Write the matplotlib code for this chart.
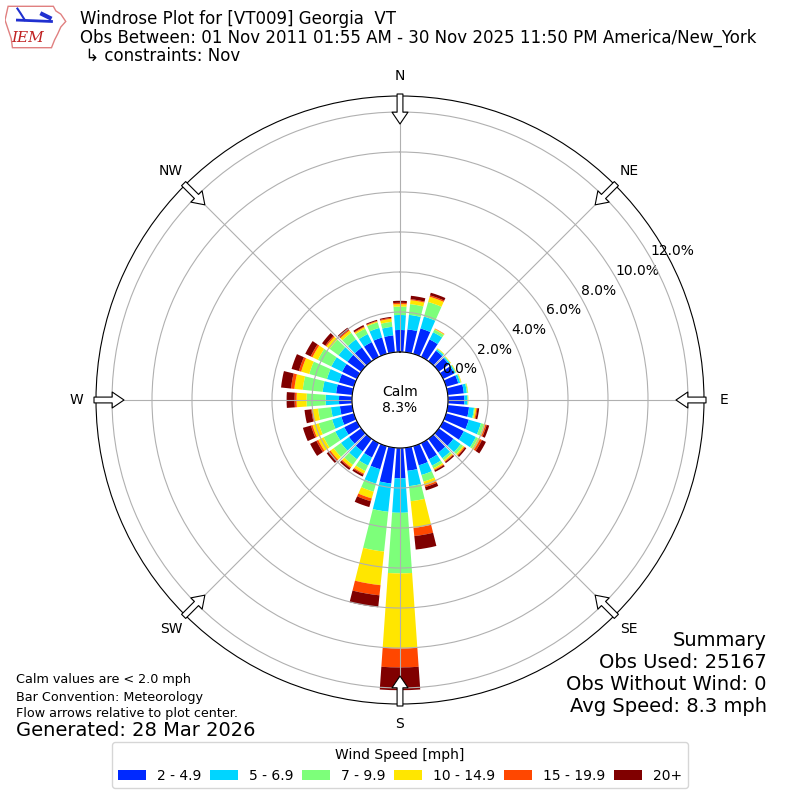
import numpy as np
import matplotlib
matplotlib.use("Agg")
import matplotlib.pyplot as plt
from matplotlib.patches import Patch, Polygon

# Direction bins (deg) and wind speed classes
directions = np.arange(0, 360, 10)
speed_labels = ["2 - 4.9", "5 - 6.9", "7 - 9.9", "10 - 14.9", "15 - 19.9", "20+"]

spd_2 = [1.10, 1.15, 1.32, 0.97, 0.65, 0.62, 0.62, 0.63, 0.81, 0.82, 1.07, 1.18,
         1.15, 0.90, 0.85, 0.90, 1.00, 1.16, 1.52, 1.80, 1.20, 0.80, 0.78, 0.75,
         0.70, 0.65, 0.62, 0.65, 0.81, 0.78, 0.82, 0.85, 0.85, 0.82, 0.85, 0.85]
spd_5 = [0.75, 0.73, 0.62, 0.40, 0.08, 0.07, 0.07, 0.10, 0.15, 0.15, 0.25, 0.63,
         0.67, 0.45, 0.35, 0.35, 0.50, 0.77, 1.72, 1.42, 0.75, 0.45, 0.48, 0.50,
         0.50, 0.48, 0.45, 0.67, 0.68, 0.62, 0.60, 0.55, 0.50, 0.45, 0.50, 0.43]
spd_7 = [0.42, 0.54, 0.76, 0.15, 0.04, 0.03, 0.03, 0.04, 0.05, 0.03, 0.05, 0.15,
         0.12, 0.15, 0.12, 0.15, 0.35, 0.76, 3.03, 2.00, 0.42, 0.30, 0.35, 0.45,
         0.65, 0.70, 0.65, 0.95, 1.00, 0.92, 0.75, 0.55, 0.40, 0.30, 0.29, 0.25]
spd_10 = [0.12, 0.20, 0.27, 0.04, 0.03, 0.03, 0.03, 0.03, 0.02, 0.02, 0.07, 0.08,
          0.11, 0.07, 0.07, 0.08, 0.20, 1.34, 3.75, 1.69, 0.35, 0.15, 0.15, 0.20,
          0.30, 0.32, 0.28, 0.50, 0.42, 0.42, 0.30, 0.20, 0.14, 0.08, 0.05, 0.15]
spd_15 = [0.07, 0.05, 0.07, 0.02, 0.00, 0.00, 0.00, 0.00, 0.00, 0.00, 0.05, 0.07,
          0.11, 0.05, 0.04, 0.04, 0.08, 0.41, 0.95, 0.51, 0.15, 0.06, 0.06, 0.08,
          0.10, 0.08, 0.06, 0.10, 0.17, 0.12, 0.10, 0.07, 0.06, 0.04, 0.03, 0.05]
spd_20 = [0.10, 0.17, 0.14, 0.00, 0.00, 0.00, 0.00, 0.00, 0.00, 0.00, 0.09, 0.13,
          0.22, 0.08, 0.07, 0.08, 0.17, 0.68, 1.14, 0.60, 0.30, 0.10, 0.10, 0.15,
          0.35, 0.42, 0.34, 0.40, 0.50, 0.38, 0.30, 0.20, 0.12, 0.08, 0.05, 0.05]
bins = [spd_2, spd_5, spd_7, spd_10, spd_15, spd_20]
calm_pct = 8.3

rticks = [0, 2, 4, 6, 8, 10, 12]
compass = ["N", "NE", "E", "SE", "S", "SW", "W", "NW"]
compass_deg = [0, 45, 90, 135, 180, 225, 270, 315]

colors = plt.cm.jet(np.linspace(0, 1, 7))[1:]

fig = plt.figure(figsize=(8, 8), dpi=100)
ax = fig.add_axes([0.12, 0.12, 0.76, 0.76], projection="polar")
ax.set_theta_zero_location("N")
ax.set_theta_direction(-1)
ax.set_rorigin(-2.4)
ax.set_ylim(0, 12.8)

theta = np.radians(directions)
bottom = np.zeros(len(directions))
for vals, c, lab in zip(bins, colors, speed_labels):
    vals = np.array(vals)
    ax.bar(theta, vals, width=np.radians(8), bottom=bottom, color=c,
           edgecolor="none", label=lab)
    bottom += vals

ax.set_yticks(rticks)
ax.set_yticklabels([f"{v:.1f}%" for v in rticks], fontsize=10)
ax.set_rlabel_position(60.5)
ax.set_xticks(np.radians(compass_deg))
ax.set_xticklabels([])
for d, lab in zip(compass_deg, compass):
    ax.text(np.radians(d), 13.8, lab, ha="center", va="center", fontsize=10,
            clip_on=False)

# flow arrows at the rim
for d in compass_deg:
    ax.annotate("", xy=(np.radians(d), 11.4), xytext=(np.radians(d), 12.9),
                arrowprops=dict(arrowstyle="simple,head_length=0.85,head_width=1.15,tail_width=0.42",
                                fc="white", ec="black", lw=0.8, shrinkA=0, shrinkB=0,
                                mutation_scale=10),
                annotation_clip=False)

fig.text(0.5, 0.5, f"Calm\n{calm_pct:.1f}%", ha="center", va="center", fontsize=10)

# header
fig.text(80 / 800, 1 - 19 / 800, "Windrose Plot for [VT009] Georgia  VT", fontsize=12, va="center")
fig.text(80 / 800, 1 - 38 / 800,
         "Obs Between: 01 Nov 2011 01:55 AM - 30 Nov 2025 11:50 PM America/New_York",
         fontsize=12, va="center")
fig.text(80 / 800, 1 - 56 / 800, " \u21b3 constraints: Nov", fontsize=12, va="center")

# logo
lax = fig.add_axes([5 / 800, 1 - 50 / 800, 62 / 800, 46 / 800])
lax.set_xlim(0, 1)
lax.set_ylim(0, 1)
lax.axis("off")
iowa = [(0.05, 0.95), (0.78, 0.95), (0.82, 0.85), (0.9, 0.78), (0.98, 0.62),
        (0.9, 0.5), (0.85, 0.35), (0.8, 0.22), (0.75, 0.05), (0.12, 0.05),
        (0.1, 0.25), (0.05, 0.45), (0.0, 0.65), (0.05, 0.95)]
lax.add_patch(Polygon(iowa, closed=True, fill=False, ec="#e08080", lw=1))
lax.plot([0.2, 0.75], [0.65, 0.62], color="#2030d0", lw=2)
lax.plot([0.2, 0.25, 0.32], [0.9, 0.8, 0.65], color="#2030d0", lw=1.5)
lax.plot([0.6, 0.72], [0.78, 0.7], color="#2030d0", lw=3)
lax.text(0.1, 0.25, "IEM", color="#c02020", fontsize=11, family="serif",
         style="italic", va="center")

# notes
fig.text(16 / 800, 1 - 680 / 800, "Calm values are < 2.0 mph", fontsize=9.2, va="center")
fig.text(16 / 800, 1 - 697 / 800, "Bar Convention: Meteorology", fontsize=9.2, va="center")
fig.text(16 / 800, 1 - 713 / 800, "Flow arrows relative to plot center.", fontsize=9.2, va="center")
fig.text(16 / 800, 1 - 730 / 800, "Generated: 28 Mar 2026", fontsize=14, va="center")

summary = ["Summary", "Obs Used: 25167", "Obs Without Wind: 0", "Avg Speed: 8.3 mph"]
for i, s in enumerate(summary):
    fig.text(767 / 800, 1 - (640 + 22 * i) / 800, s, fontsize=14, ha="right", va="center")

handles = [Patch(facecolor=c, label=l) for c, l in zip(colors, speed_labels)]
fig.legend(handles=handles, loc="lower center", bbox_to_anchor=(0.5, 5 / 800), ncol=6,
           title="Wind Speed [mph]", fontsize=10, title_fontsize=10, columnspacing=0.63)

fig.savefig("out.png", dpi=100)
